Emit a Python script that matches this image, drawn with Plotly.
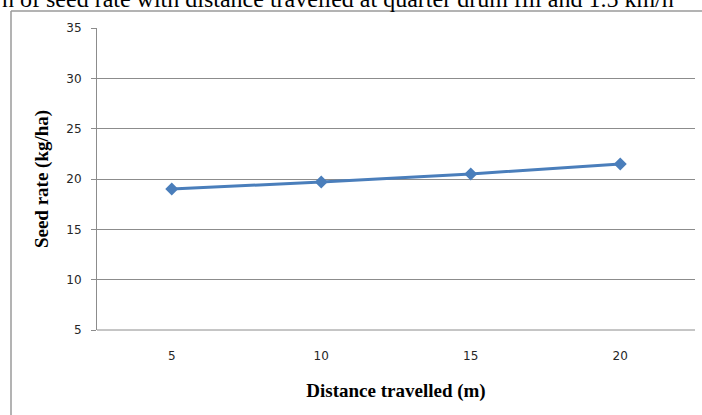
import plotly.graph_objects as go

# Seed rate measured at each travelled distance
distance_m = ["5", "10", "15", "20"]
seed_rate_kg_ha = [19.0, 19.7, 20.5, 21.5]
y_ticks = [5, 10, 15, 20, 25, 30, 35]

W, H = 702, 415
L, R, T, B = 97, 7, 28, 85
pw, ph = W - L - R, H - T - B


def px_x(px):
    return (px - L) / pw


def px_y(py):
    return (H - B - py) / ph


fig = go.Figure()
fig.add_trace(go.Scatter(
    x=distance_m,
    y=seed_rate_kg_ha,
    mode="lines+markers",
    line=dict(color="#4a7ebb", width=3),
    marker=dict(symbol="diamond", size=10, color="#4a7ebb"),
    showlegend=False,
))

tick_font = dict(family="DejaVu Sans", size=12, color="#262626")
title_font = dict(family="Liberation Serif", size=19, color="black")

fig.update_layout(
    width=W, height=H,
    margin=dict(l=L, r=R, t=T, b=B),
    paper_bgcolor="white",
    plot_bgcolor="white",
    xaxis=dict(
        type="category",
        range=[-0.5, 3.5],
        showgrid=False,
        showline=False,
        zeroline=False,
        ticks="",
        ticklabelstandoff=17,
        tickfont=tick_font,
        title=dict(text="<b>Distance travelled (m)</b>", font=title_font,
                   standoff=21),
    ),
    yaxis=dict(
        range=[5, 35],
        tickvals=y_ticks,
        showgrid=True,
        gridcolor="#8c8c8c",
        gridwidth=1,
        showline=True,
        linecolor="#8c8c8c",
        linewidth=1,
        ticks="outside",
        ticklen=5,
        tickcolor="#8c8c8c",
        zeroline=False,
        ticklabelstandoff=7,
        tickfont=tick_font,
        title=dict(text="<b>Seed rate (kg/ha)</b>", font=title_font,
                   standoff=12),
    ),
    shapes=[
        # chart frame, open to the right and bottom
        dict(type="line", xref="paper", yref="paper",
             x0=px_x(11), x1=px_x(720), y0=px_y(11), y1=px_y(11),
             line=dict(color="#9a9a9a", width=1.5)),
        dict(type="line", xref="paper", yref="paper",
             x0=px_x(11), x1=px_x(11), y0=px_y(11), y1=px_y(430),
             line=dict(color="#9a9a9a", width=1.5)),
        # baseline at the bottom of the plot area
        dict(type="line", xref="paper", yref="paper",
             x0=0, x1=1, y0=0, y1=0,
             line=dict(color="#8c8c8c", width=1)),
    ],
    annotations=[
        dict(text="n of seed rate with distance travelled at quarter drum fill and 1.5 km/h",
             xref="paper", yref="paper", x=px_x(0), y=px_y(14),
             xanchor="left", yanchor="bottom", showarrow=False,
             font=dict(family="Liberation Serif", size=24, color="black")),
    ],
)

fig.write_html("out.html")
